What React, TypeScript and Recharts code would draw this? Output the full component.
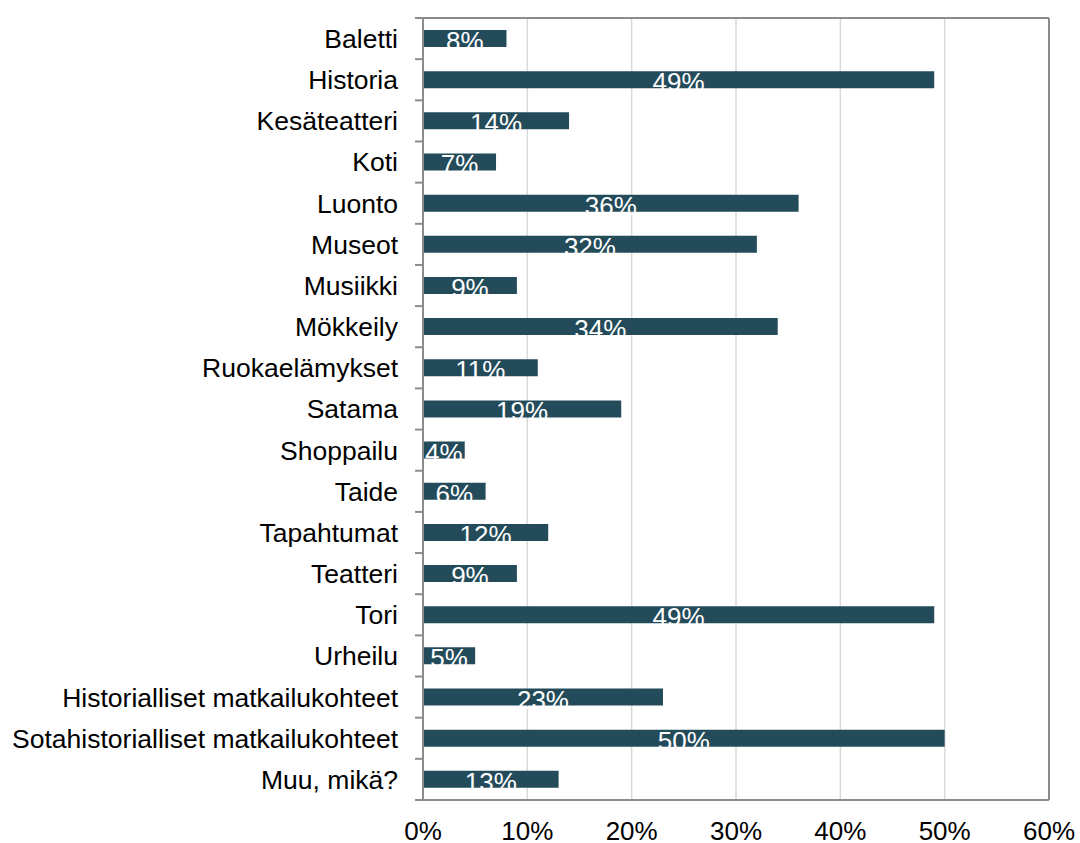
import React from 'react';
import { BarChart, Bar, XAxis, YAxis, CartesianGrid, ReferenceLine, LabelList } from 'recharts';

const categories = [
  'Baletti', 'Historia', 'Kesäteatteri', 'Koti', 'Luonto', 'Museot', 'Musiikki', 'Mökkeily',
  'Ruokaelämykset', 'Satama', 'Shoppailu', 'Taide', 'Tapahtumat', 'Teatteri', 'Tori', 'Urheilu',
  'Historialliset matkailukohteet', 'Sotahistorialliset matkailukohteet', 'Muu, mikä?',
];
const values = [8, 49, 14, 7, 36, 32, 9, 34, 11, 19, 4, 6, 12, 9, 49, 5, 23, 50, 13];
const xTicks = [0, 10, 20, 30, 40, 50, 60];

const data = categories.map((name, i) => ({ name, value: values[i] }));

const FONT = '"Liberation Sans", Arial, sans-serif';
const AXIS = '#8c8c8c';
const BAR = '#234B5A';

const CHART_W = 1080;
const CHART_H = 843;
const MARGIN_TOP = 17;
const TOP_AXIS_H = 1;
const BOTTOM_AXIS_H = 43;
const Y_AXIS_W = 423;
const TICK_MARGIN_Y = 25;
const PLOT_H = CHART_H - MARGIN_TOP - TOP_AXIS_H - BOTTOM_AXIS_H;
const BAND = PLOT_H / categories.length;

const renderLabel = (props: any) => {
  const { x, y, width, height, value } = props;
  return (
    <text
      x={x + width / 2}
      y={y + height + 3}
      textAnchor="middle"
      fill="#ffffff"
      fontSize={26}
      fontFamily={FONT}
    >
      {`${value}%`}
    </text>
  );
};

const renderCatTick = (props: any) => {
  const { x, y, payload } = props;
  const axisX = x + TICK_MARGIN_Y;
  const half = BAND / 2;
  const isLast = payload.value === categories[categories.length - 1];
  return (
    <g>
      <text x={x} y={y} dy="0.355em" textAnchor="end" fontSize={26.5} fill="#000" fontFamily={FONT}>
        {payload.value}
      </text>
      <line x1={axisX - 8} x2={axisX} y1={y - half} y2={y - half} stroke={AXIS} strokeWidth={2} />
      {isLast && (
        <line x1={axisX - 8} x2={axisX} y1={y + half} y2={y + half} stroke={AXIS} strokeWidth={2} />
      )}
    </g>
  );
};

export default function App() {
  return (
    <div style={{ position: 'absolute', left: 0, top: 0, width: CHART_W, height: CHART_H, background: '#fff' }}>
      <BarChart
        width={CHART_W}
        height={CHART_H}
        data={data}
        layout="vertical"
        margin={{ top: MARGIN_TOP, right: 31, left: 0, bottom: 0 }}
        style={{ fontFamily: FONT }}
      >
        <CartesianGrid horizontal={false} vertical stroke="#d9d9d9" strokeWidth={1.5} />
        <XAxis
          type="number"
          domain={[0, 60]}
          ticks={xTicks}
          tickFormatter={(v: number) => `${v}%`}
          axisLine={{ stroke: AXIS, strokeWidth: 2 }}
          tickLine={false}
          tickSize={0}
          tickMargin={22}
          height={BOTTOM_AXIS_H}
          tick={{ fontSize: 26, fill: '#000', fontFamily: FONT }}
          interval={0}
        />
        <XAxis
          xAxisId="top"
          orientation="top"
          type="number"
          domain={[0, 60]}
          ticks={xTicks}
          tick={false}
          tickSize={7}
          height={TOP_AXIS_H}
          axisLine={{ stroke: AXIS, strokeWidth: 2 }}
          tickLine={{ stroke: AXIS, strokeWidth: 2 }}
          interval={0}
        />
        <YAxis
          type="category"
          dataKey="name"
          width={Y_AXIS_W}
          axisLine={{ stroke: AXIS, strokeWidth: 2 }}
          tickLine={false}
          tickSize={0}
          tickMargin={TICK_MARGIN_Y}
          interval={0}
          tick={renderCatTick}
        />
        <ReferenceLine x={60} stroke={AXIS} strokeWidth={2} />
        <Bar dataKey="value" fill={BAR} barSize={17} isAnimationActive={false}>
          <LabelList dataKey="value" content={renderLabel} />
        </Bar>
      </BarChart>
    </div>
  );
}
